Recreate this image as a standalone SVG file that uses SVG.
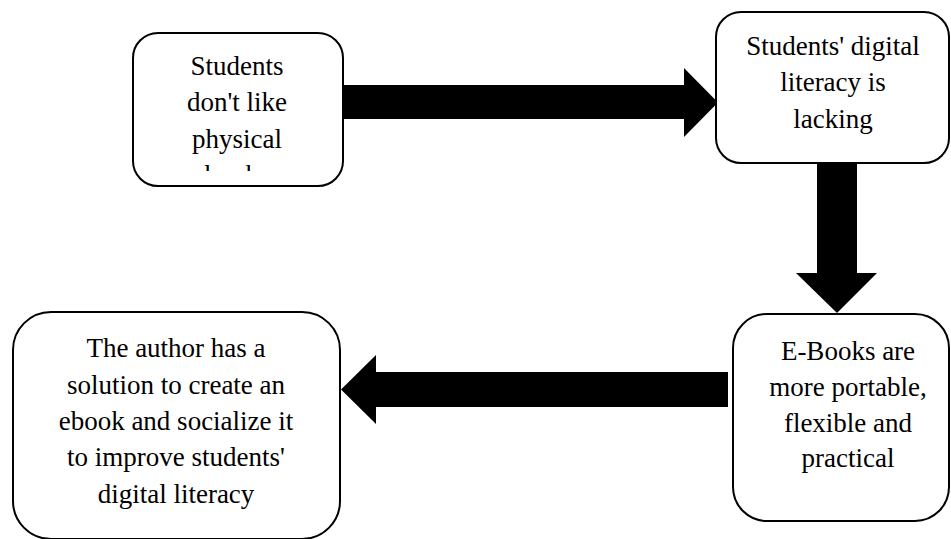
<svg xmlns="http://www.w3.org/2000/svg" width="951" height="539" viewBox="0 0 951 539">
  <style>
    .box { fill: #ffffff; stroke: #000000; stroke-width: 2; }
    .lbl { font-family: 'Liberation Serif', 'Times New Roman', 'DejaVu Serif', serif; font-size: 27px; fill: #000000; text-anchor: middle; }
    .arrow { fill: #000000; stroke: none; }
  </style>
  <defs>
    <clipPath id="clip1">
      <rect x="134" y="34" width="208" height="137"/>
    </clipPath>
  </defs>
  <rect x="0" y="0" width="951" height="539" fill="#ffffff"/>

  <g id="connectors">
    <polygon class="arrow" points="343,85 684,85 684,68 718,102.5 684,137 684,119 343,119"/>
    <polygon class="arrow" points="817,162 857,162 857,273 877,273 837,313 796,273 817,273"/>
    <polygon class="arrow" points="728,372 376,372 376,355 341,389.5 376,424 376,407 728,407"/>
  </g>

  <g id="node1" font-family="Liberation Serif, serif">
    <rect class="box" x="133" y="33" width="210" height="153" rx="25" ry="25"/>
    <g clip-path="url(#clip1)">
      <text class="lbl" x="237" y="75">Students</text>
      <text class="lbl" x="237" y="111">don't like</text>
      <text class="lbl" x="237" y="148">physical</text>
      <text class="lbl" x="237" y="184">books</text>
    </g>
  </g>

  <g id="node2">
    <rect class="box" x="716" y="12" width="233" height="151" rx="25" ry="25"/>
    <text class="lbl" x="833" y="55">Students' digital</text>
    <text class="lbl" x="833" y="91">literacy is</text>
    <text class="lbl" x="833" y="128">lacking</text>
  </g>

  <g id="node3">
    <rect class="box" x="733" y="314" width="216" height="207" rx="34" ry="34"/>
    <text class="lbl" x="848" y="360">E-Books are</text>
    <text class="lbl" x="848" y="396">more portable,</text>
    <text class="lbl" x="848" y="432">flexible and</text>
    <text class="lbl" x="848" y="467">practical</text>
  </g>

  <g id="node4">
    <rect class="box" x="13" y="312" width="327" height="227" rx="38" ry="38"/>
    <text class="lbl" x="176" y="357">The author has a</text>
    <text class="lbl" x="176" y="394">solution to create an</text>
    <text class="lbl" x="176" y="430">ebook and socialize it</text>
    <text class="lbl" x="176" y="466">to improve students'</text>
    <text class="lbl" x="176" y="503">digital literacy</text>
  </g>
</svg>
